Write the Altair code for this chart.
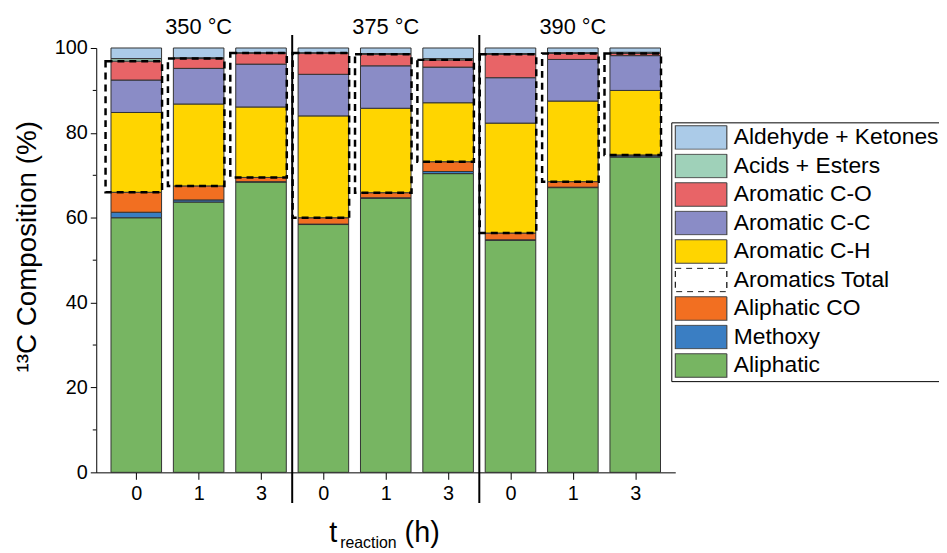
import altair as alt
import pandas as pd

FONT = "Liberation Sans, Arial, sans-serif"

temps = ["350 °C", "375 °C", "390 °C"]
times = ["0", "1", "3", "0", "1", "3", "0", "1", "3"]

# stack order, bottom -> top
components = ["Aliphatic", "Methoxy", "Aliphatic CO", "Aromatic C-H",
              "Aromatic C-C", "Aromatic C-O", "Acids + Esters", "Aldehyde + Ketones"]

aliphatic   = [60.0, 63.7, 68.4, 58.4, 64.6, 70.4, 54.7, 67.1, 74.3]
methoxy     = [1.3, 0.5, 0.1, 0.1, 0.1, 0.5, 0.1, 0.1, 0.3]
aliph_co    = [4.7, 3.3, 1.0, 1.5, 1.2, 2.3, 1.6, 1.3, 0.2]
arom_ch     = [18.8, 19.3, 16.6, 24.0, 19.9, 13.9, 25.9, 19.0, 15.2]
arom_cc     = [7.65, 8.4, 10.1, 9.8, 10.0, 8.4, 10.7, 9.8, 8.2]
arom_co     = [4.45, 2.3, 2.6, 5.0, 2.7, 1.7, 5.5, 1.4, 0.5]
acids       = [0.6, 0.2, 0.1, 0.1, 0.2, 0.3, 0.2, 0.2, 0.3]
aldehyde    = [2.5, 2.3, 1.1, 1.1, 1.3, 2.5, 1.3, 1.1, 1.0]

series = [aliphatic, methoxy, aliph_co, arom_ch, arom_cc, arom_co, acids, aldehyde]

legend_order = ["Aldehyde + Ketones", "Acids + Esters", "Aromatic C-O", "Aromatic C-C",
                "Aromatic C-H", "Aromatics Total", "Aliphatic CO", "Methoxy", "Aliphatic"]
legend_colors = ["#abcbe8", "#9fd1b9", "#e86467", "#8a8cc6",
                 "#ffd500", "#ffffff", "#f26f21", "#3a7ec3", "#77b562"]

rows = []
for i in range(len(times)):
    for k, (comp, vals) in enumerate(zip(components, series)):
        rows.append({"pos": i, "comp": comp, "ord": k, "val": vals[i]})
df = pd.DataFrame(rows)

aro_lo = [aliphatic[i] + methoxy[i] + aliph_co[i] for i in range(len(times))]
aro_hi = [aro_lo[i] + arom_ch[i] + arom_cc[i] + arom_co[i] for i in range(len(times))]
aro = pd.DataFrame({"pos": list(range(len(times))), "lo": aro_lo, "hi": aro_hi})

groups = pd.DataFrame({"pos": [1, 4, 7], "label": temps})
seps = pd.DataFrame({"pos": [2.5, 5.5]})
minor = pd.DataFrame({"v": [10, 30, 50, 70, 90]})
one = pd.DataFrame({"a": [0]})

W, H = 584, 428

label_expr = "[" + ",".join("'%s'" % t for t in times) + "][datum.value]"

x_axis = alt.Axis(values=list(range(len(times))), labelExpr=label_expr, title=None, grid=False,
                  tickSize=7, tickColor="black", domainColor="black", labelColor="black",
                  labelFontSize=20, labelFont=FONT, labelPadding=4, labelFlush=False)
x_scale = alt.Scale(domain=[-0.5625, 8.5625], nice=False, zero=False)

y_axis = alt.Axis(values=[0, 20, 40, 60, 80, 100], title="¹³C Composition (%)", grid=False,
                  tickSize=6, tickColor="black", domainColor="black", labelColor="black",
                  labelFontSize=20, labelFont=FONT, labelPadding=3,
                  titleFontSize=28, titleFont=FONT, titleFontWeight="normal", titleColor="black",
                  titlePadding=13, titleY=200)
y_scale = alt.Scale(domain=[0, 100], nice=False)


def X(field):
    return alt.X(field, scale=x_scale, axis=x_axis)


def Y(field, **kw):
    return alt.Y(field, scale=y_scale, axis=y_axis, **kw)


is_total = "datum.value == 'Aromatics Total'"
legend = alt.Legend(
    orient="none", legendX=580, legendY=75, title=None,
    labelFontSize=23, labelFont=FONT, labelColor="black", labelLimit=400, labelOffset=6,
    symbolType="M-1,-0.46H1V0.46H-1Z", symbolSize=2704, clipHeight=24.5,
    symbolStrokeWidth=1.2,
    symbolStrokeColor=alt.ExprRef(is_total + " ? '#000000' : '#444444'"),
    symbolDash=alt.ExprRef(is_total + " ? [6, 5] : [1, 0]"),
    symbolOpacity=1, rowPadding=3.75, padding=3,
    strokeColor="black", fillColor="white",
)

bars = alt.Chart(df).mark_bar(width=51, stroke="#333333", strokeWidth=1).encode(
    x=X("pos:Q"),
    y=Y("val:Q", stack="zero"),
    color=alt.Color("comp:N", scale=alt.Scale(domain=legend_order, range=legend_colors), legend=legend),
    order=alt.Order("ord:Q"),
)

boxes = alt.Chart(aro).mark_bar(width=57, xOffset=-2.5, fill="white", fillOpacity=0, stroke="black",
                                strokeDash=[7, 5], strokeWidth=2.5).encode(
    x=X("pos:Q"), y=Y("lo:Q"), y2="hi:Q")

sep_rules = alt.Chart(seps).mark_rule(color="black", strokeWidth=2).encode(
    x=X("pos:Q"), y=alt.value(-13), y2=alt.value(459))

minor_ticks = alt.Chart(minor).mark_rule(color="black", strokeWidth=1).encode(
    y=Y("v:Q"), x=alt.value(-3.5), x2=alt.value(0))

group_text = alt.Chart(groups).mark_text(fontSize=22, font=FONT, color="black", baseline="alphabetic").encode(
    x=X("pos:Q"), y=alt.value(-14), text="label:N")

t_main = alt.Chart(one).mark_text(fontSize=29, font=FONT, color="black", align="left", baseline="alphabetic").encode(
    x=alt.value(235), y=alt.value(498), text=alt.value("t"))
t_sub = alt.Chart(one).mark_text(fontSize=16, font=FONT, color="black", align="left", baseline="alphabetic").encode(
    x=alt.value(246), y=alt.value(504), text=alt.value("reaction"))
t_unit = alt.Chart(one).mark_text(fontSize=29, font=FONT, color="black", align="left", baseline="alphabetic").encode(
    x=alt.value(311), y=alt.value(498), text=alt.value("(h)"))

chart = alt.layer(bars, boxes, sep_rules, minor_ticks, group_text, t_main, t_sub, t_unit).properties(
    width=W, height=H,
    autosize=alt.AutoSizeParams(type="none"),
    padding={"left": 89, "top": 38, "right": 266, "bottom": 79},
).configure_view(stroke=None)

chart.save("out.html", embed_options={"renderer": "svg", "actions": False})
